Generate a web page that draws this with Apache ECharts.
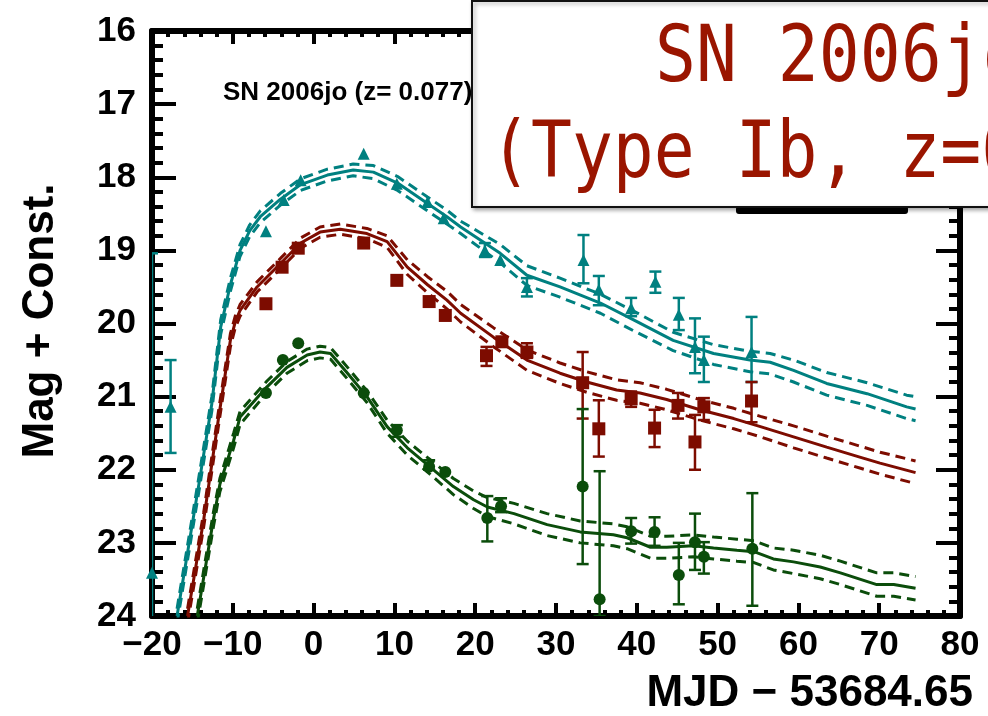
<!DOCTYPE html>
<html>
<head>
<meta charset="utf-8">
<script src="https://cdn.jsdelivr.net/npm/echarts@6/dist/echarts.min.js"></script>
<style>
html, body { margin: 0; padding: 0; background: #fff; }
#chart { width: 988px; height: 716px; }
</style>
</head>
<body>
<div id="chart"></div>
<script>
// model light curves (solid = best fit, dashed = upper / lower envelope)
var tealX  = [-16.9, -14.2, -12.6, -11.5, -10.3, -9.1, -7.9, -6.6, -4.1, -1.6, 1.7, 4.9, 7.4, 10.4, 14.1, 16.5, 18.2, 23.1, 26.4, 30.5, 35.5, 39.6, 44.5, 49.5, 54, 56.5, 59.4, 63.5, 68.5, 73.4, 74.5];
var tealMid = [24.0, 22.2, 21.1, 20.05, 19.47, 19.0, 18.73, 18.54, 18.3, 18.1, 17.97, 17.9, 17.93, 18.08, 18.36, 18.54, 18.68, 19.04, 19.34, 19.5, 19.72, 19.95, 20.23, 20.41, 20.5, 20.53, 20.64, 20.82, 20.96, 21.14, 21.17];
var tealHi  = [23.9, 22.1, 21.0, 19.95, 19.38, 18.92, 18.65, 18.46, 18.22, 18.02, 17.89, 17.82, 17.84, 17.99, 18.27, 18.45, 18.6, 18.92, 19.21, 19.38, 19.6, 19.83, 20.12, 20.29, 20.38, 20.41, 20.5, 20.67, 20.81, 20.98, 21.0];
var tealLo  = [24.1, 22.3, 21.2, 20.15, 19.56, 19.08, 18.81, 18.62, 18.38, 18.18, 18.05, 17.98, 18.02, 18.18, 18.46, 18.64, 18.77, 19.17, 19.48, 19.64, 19.86, 20.1, 20.37, 20.56, 20.66, 20.69, 20.8, 20.98, 21.12, 21.3, 21.33];

var redX   = [-15.6, -13.6, -11.8, -10.3, -9.7, -9.1, -7, -4.1, -1.6, 0.8, 3.3, 6.6, 9.1, 11.6, 14.1, 16.5, 18.2, 22.3, 26.4, 30.5, 33.8, 37.5, 40.4, 43.7, 47.8, 52, 55.3, 59.4, 63.5, 67.7, 70.1, 74.5];
var redMid = [24.0, 22.68, 21.32, 20.23, 19.98, 19.82, 19.5, 19.18, 18.9, 18.75, 18.71, 18.77, 18.88, 19.23, 19.47, 19.68, 19.86, 20.19, 20.5, 20.68, 20.8, 20.91, 20.95, 21.04, 21.18, 21.3, 21.41, 21.55, 21.69, 21.83, 21.91, 22.04];
var redHi  = [23.9, 22.58, 21.22, 20.14, 19.9, 19.74, 19.43, 19.11, 18.83, 18.68, 18.64, 18.7, 18.8, 19.13, 19.36, 19.56, 19.74, 20.06, 20.36, 20.54, 20.66, 20.77, 20.81, 20.9, 21.04, 21.16, 21.27, 21.4, 21.54, 21.68, 21.76, 21.88];
var redLo  = [24.1, 22.78, 21.42, 20.32, 20.06, 19.9, 19.57, 19.25, 18.97, 18.82, 18.78, 18.84, 18.96, 19.33, 19.58, 19.8, 19.98, 20.32, 20.64, 20.82, 20.94, 21.05, 21.09, 21.18, 21.32, 21.44, 21.55, 21.7, 21.84, 21.98, 22.06, 22.19];

var greenX   = [-14.4, -12.4, -11.6, -9.9, -9.1, -5.8, -3.3, -0.8, 0.8, 2.1, 4.2, 6.6, 9.1, 11.6, 14.4, 17.3, 19.8, 21.5, 24.8, 28.9, 33, 37.1, 38.8, 41.7, 43.7, 47, 49.5, 52.4, 54.5, 56.9, 59.4, 62.7, 65.2, 69.7, 71.8, 74.5];
var greenMid = [24.0, 22.68, 22.2, 21.6, 21.28, 20.87, 20.6, 20.43, 20.39, 20.41, 20.68, 21.0, 21.41, 21.7, 21.96, 22.23, 22.41, 22.51, 22.6, 22.75, 22.85, 22.89, 22.93, 23.06, 23.06, 23.04, 23.07, 23.1, 23.12, 23.22, 23.26, 23.33, 23.41, 23.57, 23.57, 23.62];
var greenHi  = [23.9, 22.58, 22.12, 21.5, 21.2, 20.79, 20.52, 20.35, 20.31, 20.33, 20.6, 20.92, 21.32, 21.61, 21.86, 22.12, 22.29, 22.38, 22.46, 22.6, 22.7, 22.74, 22.78, 22.91, 22.91, 22.89, 22.92, 22.95, 22.97, 23.07, 23.1, 23.17, 23.25, 23.41, 23.41, 23.46];
var greenLo  = [24.1, 22.78, 22.3, 21.7, 21.38, 20.95, 20.68, 20.51, 20.47, 20.49, 20.76, 21.08, 21.5, 21.8, 22.06, 22.34, 22.53, 22.64, 22.74, 22.9, 23.0, 23.04, 23.08, 23.21, 23.21, 23.19, 23.22, 23.25, 23.27, 23.37, 23.42, 23.49, 23.57, 23.73, 23.73, 23.78];

// photometry (x, mag, error bar top / bottom; null = no bar drawn)
var tealPtX   = [-20, -17.7, -5.9, -3.7, -1.6, 6.2, 10.3, 14.1, 16.1, 21.2, 23.1, 26.4, 33.4, 35.3, 39.3, 42.3, 45.2, 47.2, 48.3, 54.2];
var tealPtY   = [23.41, 21.14, 18.74, 18.31, 18.04, 17.68, 18.09, 18.34, 18.56, 19.0, 19.13, 19.5, 19.13, 19.54, 19.79, 19.43, 19.88, 20.32, 20.5, 20.39];
var tealErrT  = [19.04, 20.5, null, null, null, null, null, null, null, 18.9, null, 19.38, 18.79, 19.35, 19.65, 19.29, 19.65, 19.93, 20.18, 19.91];
var tealErrB  = [24.6, 21.77, null, null, null, null, null, null, null, 19.09, null, 19.63, 19.45, 19.75, 19.9, 19.58, 20.09, 20.68, 20.8, 20.8];

var redPtX   = [-5.9, -3.9, -1.9, 6.2, 10.3, 14.3, 16.3, 21.4, 23.3, 26.4, 33.3, 35.3, 39.3, 42.2, 45.1, 47.2, 48.3, 54.2];
var redPtY   = [19.73, 19.23, 18.97, 18.9, 19.41, 19.7, 19.89, 20.44, 20.25, 20.39, 20.81, 21.44, 21.03, 21.43, 21.12, 21.62, 21.14, 21.06];
var redErrT  = [null, null, null, null, null, null, null, 20.32, null, 20.27, 20.39, 21.05, 20.93, 21.18, 20.95, 21.25, 21.02, 20.8];
var redErrB  = [null, null, null, null, null, null, null, 20.58, null, 20.47, 21.3, 21.82, 21.14, 21.69, 21.3, 22.0, 21.32, 21.35];

var greenPtX   = [-5.9, -3.8, -1.9, 6.2, 10.3, 14.3, 16.3, 21.5, 23.2, 33.3, 35.4, 39.3, 42.2, 45.2, 47.2, 48.3, 54.3];
var greenPtY   = [20.95, 20.5, 20.27, 20.95, 21.46, 21.96, 22.03, 22.66, 22.5, 22.23, 23.77, 22.84, 22.85, 23.44, 22.99, 23.19, 23.08];
var greenErrT  = [null, null, null, null, 21.39, 21.87, null, 22.36, 22.39, 21.17, 22.02, 22.66, 22.65, 23.0, 22.6, 22.99, 22.32];
var greenErrB  = [null, null, null, null, 21.55, 22.0, null, 22.98, 22.58, 23.29, 24.0, 23.01, 23.04, 23.84, 23.37, 23.42, 23.86];

var TEAL = '#008080', RED = '#7d0c00', GREEN = '#0b4d0b';
var FONT = '"Liberation Sans", Arial, Helvetica, sans-serif';
var MONO = '68px "DejaVu Sans Mono", monospace';

function xAx(pos, labels) {
  return {
    type: 'value', position: pos, min: -20, max: 80, interval: 10,
    axisLine: { show: true, onZero: false, lineStyle: { color: '#000', width: 6 } },
    axisTick: { show: true, inside: true, length: 13, lineStyle: { color: '#000', width: 4 } },
    minorTick: { show: true, splitNumber: 5, length: 6, lineStyle: { color: '#000', width: 4 } },
    splitLine: { show: false },
    axisLabel: {
      show: labels, margin: 12, fontSize: 35, fontWeight: 'bold', color: '#000', fontFamily: FONT,
      formatter: function (v) { return String(v).replace('-', '\u2212'); }
    }
  };
}
function yAx(pos, labels) {
  return {
    type: 'value', position: pos, inverse: true, min: 16, max: 24, interval: 1,
    axisLine: { show: true, onZero: false, lineStyle: { color: '#000', width: 6 } },
    axisTick: { show: true, inside: true, length: 24, lineStyle: { color: '#000', width: 4 } },
    minorTick: { show: true, splitNumber: 5, length: 11, lineStyle: { color: '#000', width: 4 } },
    splitLine: { show: false },
    axisLabel: { show: labels, margin: 16, fontSize: 35, fontWeight: 'bold', color: '#000', fontFamily: FONT }
  };
}

function curve(xs, ys, color, dashed) {
  return {
    type: 'line', data: xs.map(function (x, i) { return [x, ys[i]]; }),
    symbol: 'none', silent: true, clip: true, z: 2,
    lineStyle: { color: color, width: 3, type: dashed ? [10, 6] : 'solid' }
  };
}
function points(xs, ys, color, sym, size) {
  return {
    type: 'scatter', data: xs.map(function (x, i) { return [x, ys[i]]; }),
    symbol: sym, symbolSize: size, clip: true, z: 4, silent: true,
    itemStyle: { color: color, opacity: 1 }
  };
}
function errBars(xs, tops, bots, color) {
  var d = [];
  xs.forEach(function (x, i) { if (tops[i] != null) d.push([x, tops[i], bots[i]]); });
  return {
    type: 'custom', data: d, clip: true, z: 3, silent: true,
    encode: { x: 0, y: [1, 2] },
    renderItem: function (params, api) {
      var a = api.coord([api.value(0), api.value(1)]);
      var b = api.coord([api.value(0), api.value(2)]);
      var w = 6, st = { stroke: color, lineWidth: 2.5 };
      return {
        type: 'group', children: [
          { type: 'line', shape: { x1: a[0], y1: a[1], x2: b[0], y2: b[1] }, style: st },
          { type: 'line', shape: { x1: a[0] - w, y1: a[1], x2: a[0] + w, y2: a[1] }, style: st },
          { type: 'line', shape: { x1: b[0] - w, y1: b[1], x2: b[0] + w, y2: b[1] }, style: st }
        ]
      };
    }
  };
}

var chart = echarts.init(document.getElementById('chart'));
chart.setOption({
  animation: false,
  backgroundColor: '#fff',
  grid: { left: 152, right: 28, top: 31, bottom: 100 },
  xAxis: [xAx('bottom', true), xAx('top', false)],
  yAxis: [yAx('left', true), yAx('right', false)],
  series: [
    curve(tealX, tealHi, TEAL, true), curve(tealX, tealLo, TEAL, true), curve(tealX, tealMid, TEAL, false),
    curve(redX, redHi, RED, true), curve(redX, redLo, RED, true), curve(redX, redMid, RED, false),
    curve(greenX, greenHi, GREEN, true), curve(greenX, greenLo, GREEN, true), curve(greenX, greenMid, GREEN, false),
    errBars(tealPtX, tealErrT, tealErrB, TEAL),
    errBars(redPtX, redErrT, redErrB, RED),
    errBars(greenPtX, greenErrT, greenErrB, GREEN),
    points(tealPtX, tealPtY, TEAL, 'triangle', 12),
    points(redPtX, redPtY, RED, 'rect', 13),
    points(greenPtX, greenPtY, GREEN, 'circle', 12)
  ],
  graphic: [
    { type: 'text', x: 223, y: 93, z: 50,
      style: { text: 'SN 2006jo (z= 0.077)', font: 'bold 26px ' + FONT, fill: '#000', align: 'left', verticalAlign: 'middle', textAlign: 'left', textVerticalAlign: 'middle' } },
    { type: 'text', x: 41, y: 321, rotation: Math.PI / 2, z: 50,
      style: { text: 'Mag + Const.', font: 'bold 44px ' + FONT, fill: '#000', align: 'center', verticalAlign: 'middle', textAlign: 'center', textVerticalAlign: 'middle' } },
    { type: 'text', x: 973, y: 694, z: 50,
      style: { text: 'MJD \u2212 53684.65', font: 'bold 44px ' + FONT, fill: '#000', align: 'right', verticalAlign: 'middle', textAlign: 'right', textVerticalAlign: 'middle' } },
    { type: 'rect', z: 99, shape: { x: 736, y: 206, width: 172, height: 8, r: 3 }, style: { fill: '#000' } },
    { type: 'rect', z: 100, shape: { x: 472, y: 1, width: 600, height: 206 },
      style: { fill: '#fff', stroke: '#111', lineWidth: 2, shadowBlur: 4, shadowColor: 'rgba(0,0,0,0.35)', shadowOffsetX: 2, shadowOffsetY: 2 } },
    { type: 'text', x: 655, y: 61, scaleY: 1.15, z: 101,
      style: { text: 'SN 2006jo', font: MONO, fill: '#9a1500', align: 'left', verticalAlign: 'middle', textAlign: 'left', textVerticalAlign: 'middle' } },
    { type: 'text', x: 490, y: 157, scaleY: 1.15, z: 101,
      style: { text: '(Type Ib, z=0.077)', font: MONO, fill: '#9a1500', align: 'left', verticalAlign: 'middle', textAlign: 'left', textVerticalAlign: 'middle' } }
  ]
});
</script>
</body>
</html>
